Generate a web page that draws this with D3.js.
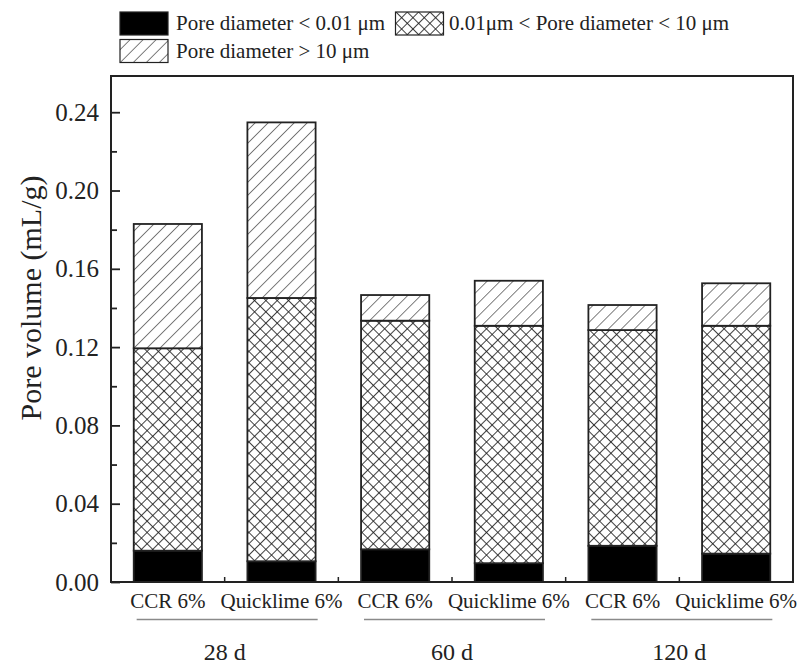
<!DOCTYPE html>
<html>
<head>
<meta charset="utf-8">
<script src="https://cdn.jsdelivr.net/npm/d3@7"></script>
<style>
  html, body { margin: 0; padding: 0; background: #fff; }
  svg { display: block; font-family: "Liberation Serif", "Times New Roman", serif; }
</style>
</head>
<body>
<svg id="chart" width="802" height="669"></svg>
<script>
// Curing ages and binder types
const ages = ["28 d", "60 d", "120 d"];
const binders = ["CCR 6%", "Quicklime 6%"];

// Pore volume (mL/g) by pore size class, one value per age/binder bar
const poreSmall = [0.0160, 0.0106, 0.0167, 0.0096, 0.0185, 0.0145];   // < 0.01 µm
const poreMid   = [0.1034, 0.1345, 0.1168, 0.1213, 0.1102, 0.1164];   // 0.01–10 µm
const poreLarge = [0.0635, 0.0897, 0.0131, 0.0230, 0.0128, 0.0217];   // > 10 µm

const yTicks = [0, 0.04, 0.08, 0.12, 0.16, 0.20, 0.24];
const yMinorTicks = [0.02, 0.06, 0.10, 0.14, 0.18, 0.22];
const yMax = 0.2585;

const legendLabels = [
  "Pore diameter < 0.01 \u03bcm",
  "0.01\u03bcm < Pore diameter < 10 \u03bcm",
  "Pore diameter > 10 \u03bcm"
];

const W = 802, H = 669;
const margin = { top: 76, right: 9, bottom: 87, left: 111 };
const svg = d3.select("#chart");

// Fill patterns
const defs = svg.append("defs");
const hatch = defs.append("pattern")
  .attr("id", "hatch").attr("patternUnits", "userSpaceOnUse")
  .attr("width", 9.2).attr("height", 9.2)
  .attr("patternTransform", "rotate(45)");
hatch.append("rect").attr("width", 9.2).attr("height", 9.2).attr("fill", "#fff");
hatch.append("line").attr("x1", 0).attr("y1", 0).attr("x2", 0).attr("y2", 9.2)
  .attr("stroke", "#2a2a2a").attr("stroke-width", 1.2);

const cross = defs.append("pattern")
  .attr("id", "cross").attr("patternUnits", "userSpaceOnUse")
  .attr("width", 8).attr("height", 8)
  .attr("patternTransform", "rotate(45)");
cross.append("rect").attr("width", 8).attr("height", 8).attr("fill", "#fff");
cross.append("line").attr("x1", 0).attr("y1", 0).attr("x2", 0).attr("y2", 8)
  .attr("stroke", "#1e1e1e").attr("stroke-width", 1.7);
cross.append("line").attr("x1", 0).attr("y1", 0).attr("x2", 8).attr("y2", 0)
  .attr("stroke", "#1e1e1e").attr("stroke-width", 1.7);

const fills = ["#000", "url(#cross)", "url(#hatch)"];

// Build rows for stacking
const keys = ["small", "mid", "large"];
const rows = [];
ages.forEach((a, gi) => binders.forEach((b, bi) => {
  const i = gi * 2 + bi;
  rows.push({ id: a + "|" + b, age: a, binder: b,
    small: poreSmall[i], mid: poreMid[i], large: poreLarge[i] });
}));

const x = d3.scaleBand()
  .domain(rows.map(d => d.id))
  .range([margin.left, W - margin.right])
  .paddingInner(0.4).paddingOuter(0.2);

const y = d3.scaleLinear().domain([0, yMax]).range([H - margin.bottom, margin.top]);

const series = d3.stack().keys(keys)(rows);

// Bars
svg.append("g").selectAll("g")
  .data(series).join("g")
  .attr("fill", (d, i) => fills[i])
  .selectAll("rect")
  .data(d => d).join("rect")
  .attr("x", d => x(d.data.id))
  .attr("width", x.bandwidth())
  .attr("y", d => y(d[1]))
  .attr("height", d => y(d[0]) - y(d[1]))
  .attr("stroke", "#222").attr("stroke-width", 1.8);

// Y axis with inward ticks
const yAxis = d3.axisLeft(y).tickValues(yTicks).tickFormat(d3.format(".2f"))
  .tickSizeInner(-9).tickSizeOuter(0).tickPadding(12);
const gy = svg.append("g").attr("transform", `translate(${margin.left},0)`).call(yAxis);
gy.select(".domain").remove();
gy.selectAll(".tick line").attr("stroke", "#222").attr("stroke-width", 1.8);
gy.selectAll(".tick text").attr("font-size", 25).attr("fill", "#222")
  .attr("font-family", "Liberation Serif, Times New Roman, serif");

const gyMinor = d3.axisLeft(y).tickValues(yMinorTicks).tickFormat("")
  .tickSizeInner(-6).tickSizeOuter(0);
const gym = svg.append("g").attr("transform", `translate(${margin.left},0)`).call(gyMinor);
gym.select(".domain").remove();
gym.selectAll(".tick line").attr("stroke", "#222").attr("stroke-width", 1.8);

// X axis category labels
const xAxis = d3.axisBottom(x).tickFormat(id => id.split("|")[1])
  .tickSize(0).tickPadding(11);
const gx = svg.append("g").attr("transform", `translate(0,${H - margin.bottom})`).call(xAxis);
gx.select(".domain").remove();
gx.selectAll(".tick text").attr("font-size", 21).attr("fill", "#222")
  .attr("font-family", "Liberation Serif, Times New Roman, serif");

// Small inward ticks between bars
const step = x.step();
const boundaries = rows.slice(1).map(d => x(d.id) - (step - x.bandwidth()) / 2);
svg.append("g").selectAll("line").data(boundaries).join("line")
  .attr("x1", d => d).attr("x2", d => d)
  .attr("y1", H - margin.bottom).attr("y2", H - margin.bottom - 5)
  .attr("stroke", "#222").attr("stroke-width", 1.5);

// Plot frame
svg.append("rect")
  .attr("x", margin.left).attr("y", margin.top)
  .attr("width", W - margin.left - margin.right)
  .attr("height", H - margin.top - margin.bottom)
  .attr("fill", "none").attr("stroke", "#222").attr("stroke-width", 2);

// Age group underlines and labels
const groupCenter = a => {
  const first = x(a + "|" + binders[0]);
  const last = x(a + "|" + binders[binders.length - 1]) + x.bandwidth();
  return (first + last) / 2;
};
const groups = svg.append("g");
groups.selectAll("line").data(ages).join("line")
  .attr("x1", a => groupCenter(a) - 88).attr("x2", a => groupCenter(a) + 93)
  .attr("y1", 619.5).attr("y2", 619.5)
  .attr("stroke", "#8a8a8a").attr("stroke-width", 1.6);
groups.selectAll("text").data(ages).join("text")
  .attr("x", a => groupCenter(a)).attr("y", 660)
  .attr("text-anchor", "middle").attr("font-size", 24).attr("fill", "#222")
  .text(a => a);

// Y axis title
svg.append("text")
  .attr("transform", `translate(41,298) rotate(-90)`)
  .attr("text-anchor", "middle").attr("font-size", 30).attr("fill", "#222")
  .text("Pore volume (mL/g)");

// Legend
const legendItems = [
  { x: 120, y: 12, tx: 176, ty: 30 },
  { x: 395.5, y: 12, tx: 449, ty: 30 },
  { x: 120, y: 39.5, tx: 176, ty: 58 }
];
const lg = svg.append("g").selectAll("g").data(legendItems).join("g");
lg.append("rect")
  .attr("x", d => d.x).attr("y", d => d.y)
  .attr("width", 48).attr("height", 23)
  .attr("fill", (d, i) => fills[i])
  .attr("stroke", "#222").attr("stroke-width", 1.2);
lg.append("text")
  .attr("x", d => d.tx).attr("y", d => d.ty)
  .attr("font-size", 21).attr("fill", "#222")
  .text((d, i) => legendLabels[i]);
</script>
</body>
</html>
